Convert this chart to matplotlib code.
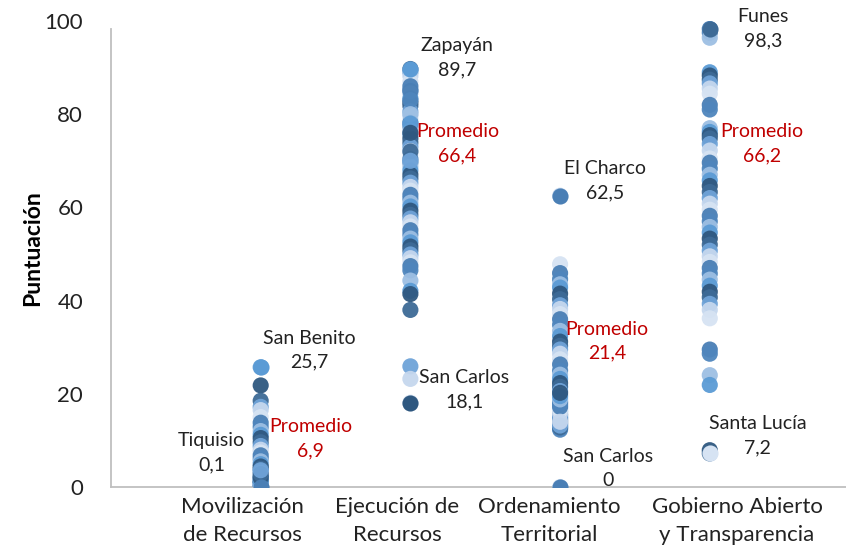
import matplotlib.pyplot as plt

plt.rcParams['font.family'] = ['Lato', 'DejaVu Sans']

# --- Data ---
categorias = ['Movilización\nde Recursos', 'Ejecución de\nRecursos',
              'Ordenamiento\nTerritorial', 'Gobierno Abierto\ny Transparencia']

movilizacion = [25.7, 21.8, 18.5, 17.2, 16.5, 15.0, 13.8, 12.9, 12.0, 11.2,
                10.5, 9.6, 8.8, 8.0, 7.4, 6.8, 6.1, 5.5, 4.9, 4.4, 3.9, 3.4,
                3.0, 2.6, 2.2, 1.9, 1.6, 1.3, 1.0, 0.8, 0.6, 0.4, 0.3, 0.2,
                0.1, 0.5, 1.2, 2.0, 2.8, 3.6]
ejecucion = [89.7, 89.0, 88.2, 87.0, 86.0, 85.2, 84.5, 83.4, 82.5, 81.8,
             80.6, 79.8, 79.0, 78.2, 77.4, 76.5, 75.7, 74.8, 73.9, 73.0,
             72.1, 71.3, 70.4, 69.6, 68.7, 67.9, 67.0, 66.2, 65.3, 64.4,
             63.6, 62.7, 61.9, 61.0, 60.2, 59.3, 58.4, 57.6, 56.8, 55.9,
             55.1, 54.2, 53.3, 52.5, 51.6, 50.8, 49.9, 49.1, 48.2, 47.4,
             46.5, 44.3, 42.1, 41.4, 38.0, 25.9, 23.2, 18.1, 85.0, 83.0,
             80.0, 78.0, 76.0, 72.0, 70.0]
ordenamiento = [62.5, 47.8, 45.9, 44.6, 43.5, 42.8, 41.5, 40.3, 39.0, 38.2,
                37.1, 36.0, 34.8, 33.5, 32.4, 31.2, 30.3, 29.5, 28.6, 27.4,
                26.3, 25.0, 24.1, 23.2, 22.3, 21.5, 20.6, 19.8, 19.0, 18.3,
                17.6, 16.9, 16.2, 15.5, 14.8, 14.2, 13.6, 13.1, 12.6, 12.3,
                13.0, 13.4, 13.8, 14.4, 15.0, 15.8, 16.5, 17.2, 18.0, 18.8,
                19.5, 20.2, 12.8, 13.2, 14.0, 0.0]
gobierno = [98.3, 97.5, 96.4, 89.0, 88.3, 87.4, 86.6, 85.5, 84.4, 82.0,
            81.0, 77.0, 76.2, 75.5, 74.8, 73.6, 72.2, 70.5, 69.6, 68.3,
            67.0, 65.8, 64.6, 63.3, 62.0, 60.8, 59.5, 58.2, 57.0, 55.8,
            54.6, 53.3, 52.0, 50.7, 49.5, 48.3, 47.0, 45.8, 44.5, 43.2,
            41.9, 40.7, 39.3, 38.0, 36.2, 29.5, 28.6, 24.0, 21.9, 7.9, 7.2]

series = [movilizacion, ejecucion, ordenamiento, gobierno]
promedios = [6.9, 66.4, 21.4, 66.2]

# municipio destacado, valor, posicion categoria
etiquetas = [
    ('San Benito', 25.7, 1), ('Tiquisio', 0.1, 1),
    ('Zapayán', 89.7, 2), ('San Carlos', 18.1, 2),
    ('El Charco', 62.5, 3), ('San Carlos', 0.0, 3),
    ('Funes', 98.3, 4), ('Santa Lucía', 7.2, 4),
]
# offsets in pixels (dx, dy) for each label
offsets = [(49, 17), (-49, 34), (47, 11), (54, 13),
           (45, 15), (48, 19), (53, 0), (48, 18)]
offsets_prom = [(50, 16), (47, 34), (47, 46), (52, 35)]

# category labels sit a bit off the dot columns in the original
pos_etiquetas = [0.875, 1.91, 2.926, 4.182]

colores = ['#5b9bd5', '#3d6a96', '#c5d7ee', '#4a7fb5', '#9dbfe3',
           '#2f5880', '#6fa3d8', '#d6e3f3', '#4f86bd']
# color of the highlighted extreme points
color_max = ['#5b9bd5', '#5b9bd5', '#4a7fb5', '#3d6a96']
color_min = ['#4a7fb5', '#2f5880', '#4a7fb5', '#d6e3f3']

# --- Plot ---
fig = plt.figure(figsize=(8.46, 5.48), dpi=100)
ax = fig.add_axes([0.1312, 0.1113, 0.8688, 0.8504])

for i, vals in enumerate(series):
    xs = [i + 1] * len(vals)
    cs = [colores[(j * 5 + i) % len(colores)] for j in range(len(vals))]
    ax.scatter(xs, vals, s=135, c=cs, linewidths=0, alpha=0.95, zorder=3)
    ax.scatter([i + 1], [max(vals)], s=135, c=color_max[i], linewidths=0, zorder=4)
    ax.scatter([i + 1], [min(vals)], s=135, c=color_min[i], linewidths=0, zorder=4)

for (nombre, val, pos), (dx, dy) in zip(etiquetas, offsets):
    txt = f"{nombre}\n{val:g}".replace('.', ',')
    ax.annotate(txt, xy=(pos, val), xytext=(dx, dy), textcoords='offset pixels',
                ha='center', va='center', fontsize=14, color='#222222',
                linespacing=1.5)

for i, (m, (dx, dy)) in enumerate(zip(promedios, offsets_prom)):
    txt = f"Promedio\n{m:.1f}".replace('.', ',')
    ax.annotate(txt, xy=(i + 1, m), xytext=(dx, dy), textcoords='offset pixels',
                ha='center', va='center', fontsize=14, color='#c00000',
                linespacing=1.5)

ax.set_xlim(0, 4.91)
ax.set_ylim(0, 100)
ax.set_yticks(range(0, 101, 20))
ax.set_xticks(pos_etiquetas)
ax.set_xticklabels(categorias, fontsize=16, linespacing=1.5)
ax.tick_params(axis='both', length=0, colors='#222222')
ax.tick_params(axis='y', labelsize=16, pad=20)
ax.tick_params(axis='x', pad=7)
ax.set_ylabel('Puntuación', fontsize=16.5, fontweight='bold')
ax.yaxis.set_label_coords(-0.092, 0.513)

for s in ['top', 'right']:
    ax.spines[s].set_visible(False)
for s in ['left', 'bottom']:
    ax.spines[s].set_color('#bfbfbf')
    ax.spines[s].set_linewidth(1.3)
ax.spines['left'].set_bounds(0, 98.2)

plt.savefig('out.png', dpi=100)
